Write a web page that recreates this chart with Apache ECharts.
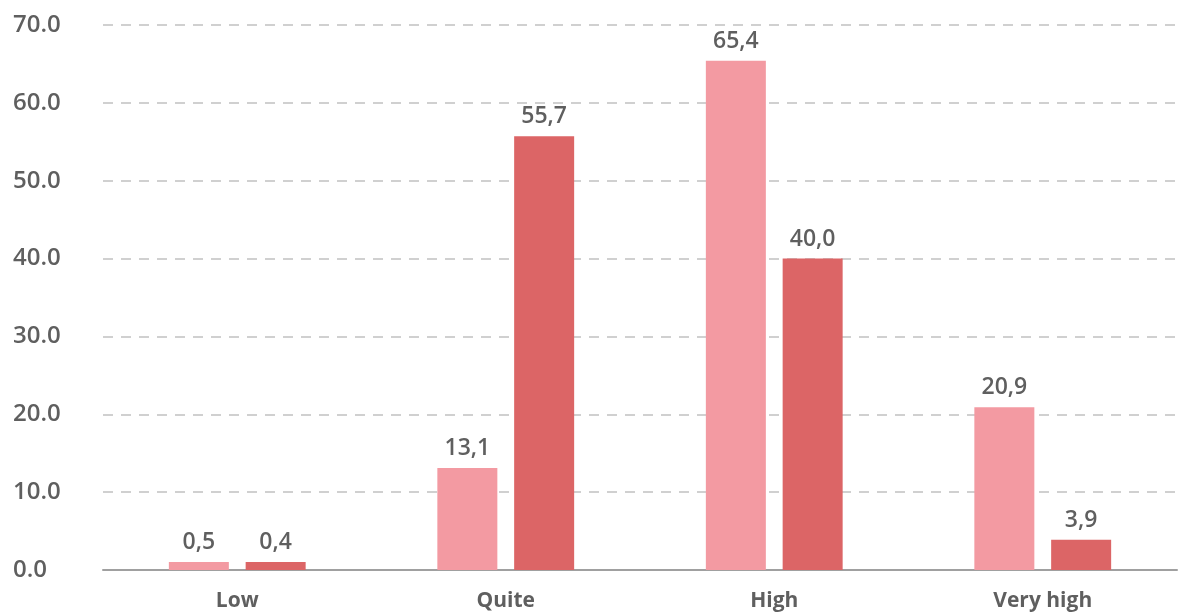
<!DOCTYPE html>
<html>
<head>
<meta charset="utf-8">
<script src="https://cdn.jsdelivr.net/npm/echarts@6/dist/echarts.min.js"></script>
<style>
  html, body { margin: 0; padding: 0; background: #fff; }
  #chart { width: 1184px; height: 614px; }
</style>
</head>
<body>
<div id="chart"></div>
<script>
var categories = ['Low', 'Quite', 'High', 'Very high'];
var seriesA = [0.5, 13.1, 65.4, 20.9];
var seriesB = [0.4, 55.7, 40.0, 3.9];
var yTicks = [0, 10, 20, 30, 40, 50, 60, 70];

var textColor = '#5f5f5f';
var fontFam = '"Open Sans", "Noto Sans", sans-serif';

function commaLabel(p) {
  return p.value.toFixed(1).replace('.', ',');
}

var myChart = echarts.init(document.getElementById('chart'));
var option = {
  animation: false,
  grid: { left: 103, right: 7, top: 25, bottom: 44 },
  xAxis: {
    type: 'category',
    data: categories,
    axisTick: { show: false },
    axisLine: { lineStyle: { color: '#a0a0a0', width: 2 } },
    axisLabel: {
      color: textColor, fontFamily: fontFam, fontWeight: 700,
      fontSize: 21, margin: 21
    }
  },
  yAxis: {
    type: 'value',
    min: yTicks[0],
    max: yTicks[yTicks.length - 1],
    interval: 10,
    axisLine: { show: false },
    axisTick: { show: false },
    splitLine: { lineStyle: { color: '#d0d0d0', width: 2, type: [10, 8] } },
    axisLabel: {
      color: textColor, fontFamily: fontFam, fontWeight: 600,
      fontSize: 24, align: 'left', margin: 90,
      formatter: function (v) { return v.toFixed(1); }
    }
  },
  series: [
    {
      name: 'A',
      type: 'bar',
      data: seriesA,
      barWidth: 60,
      barGap: '28%',
      barMinHeight: 8,
      itemStyle: { color: '#f39aa2' },
      label: {
        show: true, position: 'top', distance: 8,
        color: textColor, fontFamily: fontFam, fontWeight: 600, fontSize: 23,
        formatter: commaLabel
      }
    },
    {
      name: 'B',
      type: 'bar',
      data: seriesB,
      barWidth: 60,
      barMinHeight: 8,
      itemStyle: { color: '#dc6566' },
      label: {
        show: true, position: 'top', distance: 8,
        color: textColor, fontFamily: fontFam, fontWeight: 600, fontSize: 23,
        formatter: commaLabel
      }
    }
  ]
};
myChart.setOption(option);
</script>
</body>
</html>
